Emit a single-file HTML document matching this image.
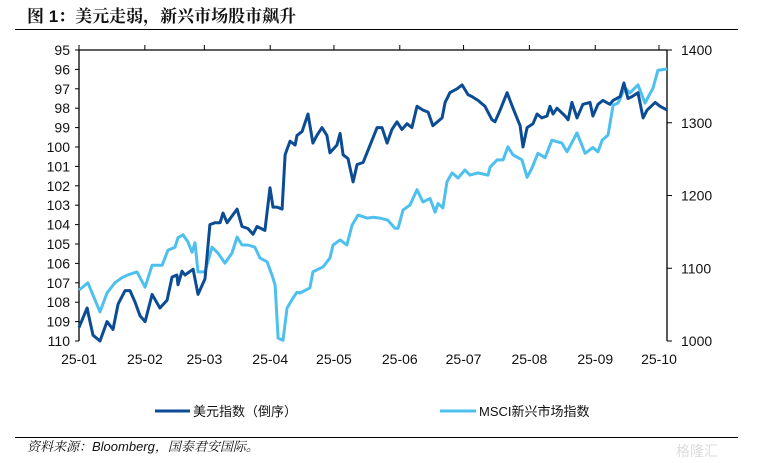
<!DOCTYPE html>
<html><head><meta charset="utf-8"><style>
body{margin:0;background:#fff;width:758px;height:463px;overflow:hidden;font-family:"Liberation Sans","Noto Sans CJK SC",sans-serif}
svg{position:absolute;left:0;top:0}
</style></head><body>
<svg id="chart" width="758" height="463">
<text x="27" y="22" font-size="17" font-weight="bold" font-family="'Liberation Sans','Noto Serif CJK SC',serif" fill="#111">图 1：美元走弱，新兴市场股市飙升</text>
<line x1="15" y1="29.5" x2="738" y2="29.5" stroke="#000" stroke-width="1"/>
<line x1="15" y1="437.5" x2="738" y2="437.5" stroke="#000" stroke-width="1"/>
<text x="27" y="451" font-size="13" font-style="italic" fill="#111" font-family="'Liberation Sans','Noto Serif CJK SC',sans-serif">资料来源：Bloomberg，国泰君安国际。</text>
<text x="676" y="456" font-size="14" fill="#ddd">格隆汇</text>
<g id="axes"></g>
<g id="series"></g>
<g>
<line x1="155" y1="411" x2="190" y2="411" stroke="#0B4C94" stroke-width="3"/>
<text x="193" y="416" font-size="13" fill="#111">美元指数（倒序）</text>
<line x1="440" y1="411" x2="476" y2="411" stroke="#4EC0EE" stroke-width="3"/>
<text x="479" y="416" font-size="13" fill="#111">MSCI新兴市场指数</text>
</g>
</svg>
<script>
const monthLabels=["25-01","25-02","25-03","25-04","25-05","25-06","25-07","25-08","25-09","25-10"];
const monthDays=[0,31,59,90,120,151,181,212,243,273];
const leftTicks=[95,96,97,98,99,100,101,102,103,104,105,106,107,108,109,110];
const rightTicks=[1000,1100,1200,1300,1400];
const dxyDays=[0,3.8,5.2,6.6,9.9,13.2,16,18.4,21.7,24,26.4,28.7,31.1,34.4,38.1,41.4,43.8,46.1,46.6,48.5,49.9,53.7,56,59.3,61.6,64,66.4,67.8,69.7,74.4,76.7,79.5,81.9,83.8,87.5,89.9,91.3,93.2,95.6,97,99.3,101.7,102.6,105,107.8,110.1,112,114.4,116.7,118.1,121.4,122.9,124.3,126.6,129,130.9,133.7,137,140.3,142.6,145,147.3,149.7,152,154.4,156.7,159.1,161.9,164.3,166.6,170.9,172.3,174.6,177.9,180.3,183.1,185,187.8,191.1,194.4,195.8,198.2,201.5,204.3,207.6,209,210.9,213.7,215.6,217.9,220.3,221.7,223.1,225,228.8,230.2,232,234.4,237.2,240.5,241.9,244.3,246.6,249.9,251.4,254.7,256.5,258.4,260.3,263.1,265.5,267.4,271.2,273.5,276.8];
const dxyValues=[109.3,108.3,109.0,109.7,110.0,109.0,109.4,108.1,107.4,107.4,108.0,108.7,109.0,107.6,108.3,107.9,106.7,106.6,107.1,106.4,106.6,106.3,107.6,106.8,104.0,103.9,103.9,103.4,103.9,103.2,104.1,104.2,104.5,104.1,104.3,102.1,103.1,103.1,103.2,100.4,99.7,99.9,99.4,99.2,98.3,99.8,99.4,99.0,99.4,100.3,99.9,99.3,100.4,100.6,101.8,100.9,100.8,99.9,99.0,99.0,99.8,99.1,98.7,99.1,98.8,99.0,97.9,98.1,98.2,98.9,98.5,97.7,97.2,97.0,96.8,97.3,97.4,97.6,97.9,98.6,98.7,98.1,97.2,98.0,98.9,100.0,99.0,98.8,98.3,98.5,98.4,97.9,98.3,98.0,98.4,98.6,97.7,98.5,97.8,97.7,98.4,97.8,97.6,97.8,97.6,97.4,96.7,97.5,97.4,97.2,98.5,98.1,97.7,97.9,98.1];
const msciDays=[0,4.2,9.9,13.2,16.9,20.2,23.1,27.3,31.1,34.4,39.1,41.9,45.2,46.6,49,51.3,53.2,54.6,56,59.3,62.6,65.4,68.7,72,74.4,76.7,79.5,82.8,85.2,88.5,90.8,92.3,93.7,96,97.9,100.7,102.6,104,108.7,110.1,114.9,118.1,119.6,122.9,126.1,128.5,131.3,135.6,138.4,141.7,145.4,148.7,150.2,152.5,155.8,159.1,161.9,165.2,167.6,169,171.3,173.2,175.6,178.4,181.7,184,187.8,192.5,193.5,196.8,199.6,201.9,204.3,208.5,210.9,213.2,216,219.4,222.6,227.3,229.7,234.4,238.2,241.9,244.3,246.2,249,251.4,253.7,257,259.3,263.1,266.4,270.2,272.5,276.8];
const msciValues=[1070,1080,1040,1066,1080,1087,1091,1095,1074,1104,1104,1125,1129,1142,1146,1136,1122,1135,1095,1095,1129,1121,1107,1121,1143,1132,1132,1129,1114,1109,1091,1077,1004,1001,1045,1059,1067,1066,1073,1095,1102,1114,1132,1139,1132,1159,1173,1169,1170,1169,1166,1155,1155,1180,1187,1208,1191,1196,1177,1189,1183,1219,1231,1224,1235,1228,1231,1228,1239,1249,1249,1267,1256,1249,1225,1238,1258,1252,1276,1272,1260,1286,1258,1266,1260,1276,1283,1324,1327,1348,1341,1352,1327,1348,1372,1374];

const X0=79,X1=667,Y0=50,Y1=341;
const xs=d=>X0+d*(659-79)/273;
const yL=v=>Y0+(v-95)*(Y1-Y0)/15;
const yR=v=>Y1-(v-1000)*(Y1-Y0)/400;
const NS="http://www.w3.org/2000/svg";
function mk(tag,attrs,parent,text){const e=document.createElementNS(NS,tag);for(const k in attrs)e.setAttribute(k,attrs[k]);if(text!==undefined)e.textContent=text;parent.appendChild(e);return e;}
const ax=document.getElementById('axes');
let e;
e=mk('line',{x1:X0,y1:Y0,x2:X1,y2:Y0,stroke:'#000','stroke-width':1.3},ax);


e=mk('line',{x1:X0,y1:Y0,x2:X0,y2:Y1,stroke:'#000','stroke-width':1.3},ax);


e=mk('line',{x1:X1,y1:Y0,x2:X1,y2:Y1,stroke:'#000','stroke-width':1.3},ax);


leftTicks.forEach(v=>{const y=yL(v);
 e=mk('line',{x1:X0-4,y1:y,x2:X0,y2:y,stroke:'#000','stroke-width':1},ax);
 
 
 e=mk('text',{x:70,y:y+5,'font-size':14,'text-anchor':'end',fill:'#111'},ax,String(v));
 
 
});
rightTicks.forEach(v=>{const y=yR(v);
 e=mk('line',{x1:X1,y1:y,x2:X1+5,y2:y,stroke:'#000','stroke-width':1},ax);
 
 
 e=mk('text',{x:681,y:y+5,'font-size':14,fill:'#111'},ax,String(v));
 
 
});
monthLabels.forEach((m,i)=>{const x=xs(monthDays[i]);
 e=mk('line',{x1:x,y1:Y0-5,x2:x,y2:Y0,stroke:'#000','stroke-width':1},ax);
 
 
 e=mk('text',{x:x,y:364,'font-size':14,'text-anchor':'middle',fill:'#111'},ax,m);
 
 
});
const sg=document.getElementById('series');
function pts(days,vals,yf){return days.map((d,i)=>xs(d).toFixed(1)+','+yf(vals[i]).toFixed(1)).join(' ');}
e=mk('polyline',{points:pts(msciDays,msciValues,yR),fill:'none',stroke:'#4EC0EE','stroke-width':3,'stroke-linejoin':'round'},sg);


e=mk('polyline',{points:pts(dxyDays,dxyValues,yL),fill:'none',stroke:'#0B4C94','stroke-width':3,'stroke-linejoin':'round'},sg);


</script>
</body></html>
